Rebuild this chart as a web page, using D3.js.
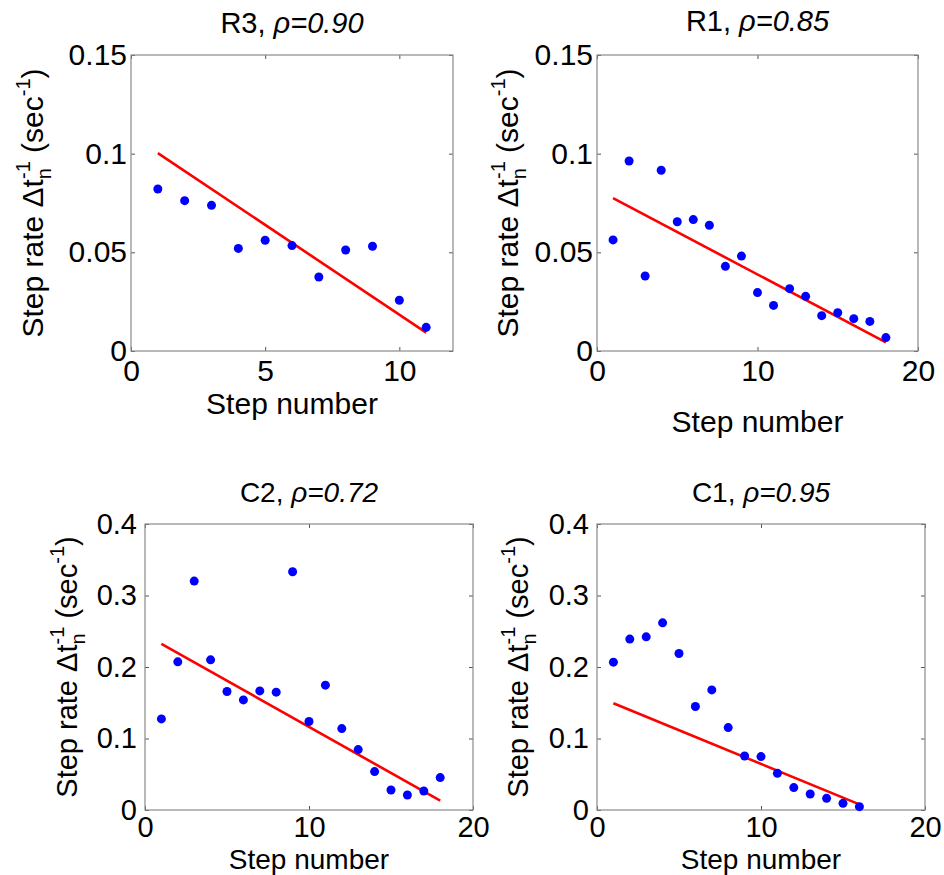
<!DOCTYPE html>
<html>
<head>
	<title>Step rate</title>
	<script src="https://d3js.org/d3.v7.min.js"></script>
	<style>
	*{
		margin:0;
		padding:0;
	}
	body { background:#fff; }
	text { font-family: "Liberation Sans", Arial, sans-serif; fill:#000; }
</style>
</head>
<body>
	<svg id="chart" width="944" height="875"></svg>
	<script>

		// data
		var titles = ["R3", "R1", "C2", "C1"];
		var rhos = ["0.90", "0.85", "0.72", "0.95"];

		var stepsR3 = [1,2,3,4,5,6,7,8,9,10,11];
		var rateR3 = [0.0821,0.0762,0.0738,0.0520,0.0561,0.0534,0.0375,0.0512,0.0531,0.0257,0.0120];
		var fitR3 = [0.1003, 0.0093];

		var stepsR1 = [1,2,3,4,5,6,7,8,9,10,11,12,13,14,15,16,17,18];
		var rateR1 = [0.0563,0.0963,0.0380,0.0916,0.0655,0.0666,0.0637,0.0429,0.0481,0.0296,0.0231,0.0316,0.0277,0.0179,0.0194,0.0164,0.0150,0.0068];
		var fitR1 = [0.0775, 0.0044];

		var stepsC2 = [1,2,3,4,5,6,7,8,9,10,11,12,13,14,15,16,17,18];
		var rateC2 = [0.1274,0.2072,0.3202,0.2100,0.1657,0.1540,0.1666,0.1648,0.3332,0.1237,0.1746,0.1139,0.0845,0.0537,0.0280,0.0210,0.0266,0.0453];
		var fitC2 = [0.2324, 0.0131];

		var stepsC1 = [1,2,3,4,5,6,7,8,9,10,11,12,13,14,15,16];
		var rateC1 = [0.2068,0.2390,0.2422,0.2618,0.2189,0.1447,0.1680,0.1153,0.0756,0.0747,0.0513,0.0313,0.0224,0.0163,0.0093,0.0047];
		var fitC1 = [0.1494, 0.0079];

		var xTicksShort = [0,5,10];
		var xTicksLong = [0,10,20];
		var yTicksSmall = [0,0.05,0.1,0.15];
		var yTicksBig = [0,0.1,0.2,0.3,0.4];

		// layout of the four axes
		var panels = [
			{steps:stepsR3, rate:rateR3, fit:fitR3, xMax:12, xTicks:xTicksShort, yMax:0.15, yTicks:yTicksSmall,
			 l:131, r:453, t:55, b:351, titleY:33, xlabY:414, ylabX:43, fs:30, xfs:30, xpad:9, ypad:4},
			{steps:stepsR1, rate:rateR1, fit:fitR1, xMax:20, xTicks:xTicksLong, yMax:0.15, yTicks:yTicksSmall,
			 l:597, r:918, t:55, b:351, titleY:31, xlabY:432, ylabX:518, fs:30, xfs:30, xpad:9, ypad:4},
			{steps:stepsC2, rate:rateC2, fit:fitC2, xMax:20, xTicks:xTicksLong, yMax:0.4, yTicks:yTicksBig,
			 l:145, r:473, t:524, b:810, titleY:502, xlabY:869, ylabX:77, fs:29, xfs:28, xpad:6, ypad:8},
			{steps:stepsC1, rate:rateC1, fit:fitC1, xMax:20, xTicks:xTicksLong, yMax:0.4, yTicks:yTicksBig,
			 l:597, r:925, t:524, b:810, titleY:502, xlabY:869, ylabX:528, fs:29, xfs:28, xpad:6, ypad:8}
		];

		var svg = d3.select("#chart");

		panels.forEach(function(p, i){
			var fs = p.fs;
			var x = d3.scaleLinear().domain([0, p.xMax]).range([p.l, p.r]);
			var y = d3.scaleLinear().domain([0, p.yMax]).range([p.b, p.t]);
			var g = svg.append("g");

			// ticks on all four sides, pointing in
			var tick = 4;
			var axes = [
				{ax:d3.axisBottom(x).tickValues(p.xTicks).tickSizeInner(-tick).tickSizeOuter(0), tr:"translate(0,"+p.b+")", lab:true, pad:p.xpad},
				{ax:d3.axisTop(x).tickValues(p.xTicks).tickSizeInner(-tick).tickSizeOuter(0), tr:"translate(0,"+p.t+")", lab:false, pad:4},
				{ax:d3.axisLeft(y).tickValues(p.yTicks).tickSizeInner(-tick).tickSizeOuter(0), tr:"translate("+p.l+",0)", lab:true, pad:p.ypad},
				{ax:d3.axisRight(y).tickValues(p.yTicks).tickSizeInner(-tick).tickSizeOuter(0), tr:"translate("+p.r+",0)", lab:false, pad:4}
			];
			axes.forEach(function(a){
				var ag = g.append("g").attr("transform", a.tr).call(a.ax.tickFormat(d => String(d)).tickPadding(a.pad));
				ag.select(".domain").remove();
				ag.selectAll(".tick line").attr("stroke", "#555");
				if(!a.lab) ag.selectAll(".tick text").remove();
				else ag.selectAll(".tick text").attr("font-size", fs).attr("font-family", "Liberation Sans, Arial, sans-serif").attr("fill", "#000");
			});

			g.append("rect")
				.attr("x", p.l).attr("y", p.t)
				.attr("width", p.r - p.l).attr("height", p.b - p.t)
				.attr("fill", "none").attr("stroke", "#8a8a8a").attr("stroke-width", 1.2);

			// fit line
			var lineData = [[p.steps[0], p.fit[0]], [p.steps[p.steps.length-1], p.fit[1]]];
			g.append("path")
				.attr("d", d3.line().x(d => x(d[0])).y(d => y(d[1]))(lineData))
				.attr("stroke", "#ff0000").attr("stroke-width", 2.6).attr("fill", "none");

			// points
			g.selectAll("circle.pt")
				.data(p.rate)
				.enter().append("circle")
				.attr("class", "pt")
				.attr("cx", (d, j) => x(p.steps[j]))
				.attr("cy", d => y(d))
				.attr("r", 4.5)
				.attr("fill", "#0000ff");

			// title
			var tt = g.append("text")
				.attr("x", (p.l + p.r)/2).attr("y", p.titleY)
				.attr("text-anchor", "middle").attr("font-size", fs - 1);
			tt.append("tspan").text(titles[i] + ", ");
			tt.append("tspan").attr("font-style", "italic").text("\u03c1=" + rhos[i]);

			// x label
			g.append("text")
				.attr("x", (p.l + p.r)/2).attr("y", p.xlabY)
				.attr("text-anchor", "middle").attr("font-size", p.xfs)
				.text("Step number");

			// y label with sub/superscripts
			var yl = g.append("text")
				.attr("transform", "translate(" + p.ylabX + "," + (p.t + p.b)/2 + ") rotate(-90)")
				.attr("text-anchor", "middle").attr("font-size", fs);
			yl.append("tspan").text("Step rate \u0394t");
			yl.append("tspan").attr("font-size", 20).attr("dy", 8).text("n");
			yl.append("tspan").attr("font-size", 20).attr("dx", -11).attr("dy", -21).text("-1");
			yl.append("tspan").attr("dy", 13).text(" (sec");
			yl.append("tspan").attr("font-size", 20).attr("dy", -13).text("-1");
			yl.append("tspan").attr("dy", 13).text(")");
		});

	</script>
</body>
</html>
